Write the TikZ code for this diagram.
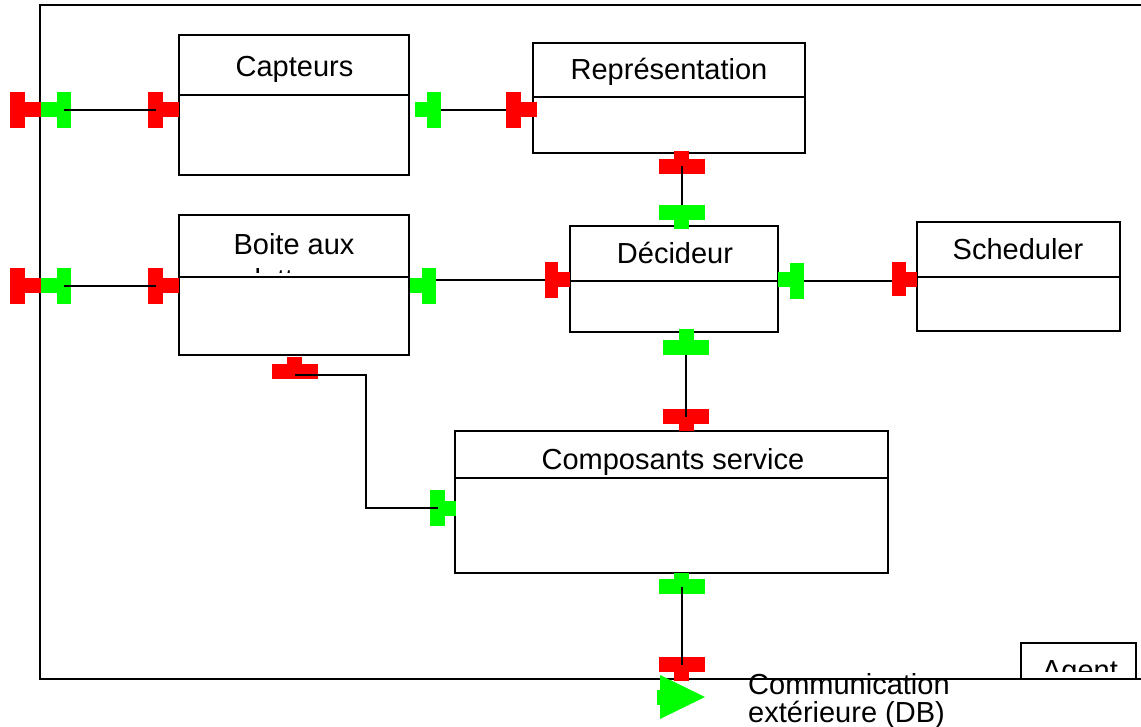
\documentclass[tikz,border=0pt]{standalone}
\usepackage{fontspec}
\setmainfont{Liberation Sans}
\definecolor{portred}{HTML}{FF0000}
\definecolor{portgreen}{HTML}{00FF00}
\tikzset{
  frame/.style={draw=black, line width=2pt},
  comp/.style={draw=black, line width=2pt, fill=white},
  wire/.style={draw=black, line width=2pt},
  lbl/.style={font=\fontsize{29}{29}\selectfont, inner sep=0pt, anchor=base},
  req/.style={fill=portred, draw=none, inner sep=0pt, outer sep=0pt},
  prov/.style={fill=portgreen, draw=none, inner sep=0pt, outer sep=0pt},
  vbar/.style={minimum width=14.5pt, minimum height=36pt},
  vstem/.style={minimum width=16pt, minimum height=15pt},
  hbar/.style={minimum width=46pt, minimum height=15pt},
  hstem/.style={minimum width=15pt, minimum height=#1},
  hstem/.default=9pt
}
\begin{document}
\begin{tikzpicture}[x=1pt, y=-1pt]
\clip (0,0) rectangle (1141,727);

% agent frame
\draw[frame] (1170,5) -- (40,5) -- (40,679) -- (1170,679);

% components: outline and header separator
\draw[comp] (179,35) rectangle (409,175);   \draw[comp] (179,95) -- (409,95);
\draw[comp] (533,43) rectangle (805,153);   \draw[comp] (533,97) -- (805,97);
\draw[comp] (179,215) rectangle (409,355);  \draw[comp] (179,277) -- (409,277);
\draw[comp] (570,226) rectangle (778,332);  \draw[comp] (570,281) -- (778,281);
\draw[comp] (917,222) rectangle (1120,331); \draw[comp] (917,277) -- (1120,277);
\draw[comp] (455,431) rectangle (888,573);  \draw[comp] (455,478) -- (888,478);
\draw[comp] (1021,643) rectangle (1136,679);

% component titles
\node[lbl] (capteurs) at (294.5,76.5) {Capteurs};
\node[lbl] (repr) at (669,80) {Représentation};
\begin{scope}
  \clip (181,217) rectangle (407,273);
  \node[lbl] (boite1) at (294,255) {Boite aux};
  \node[lbl] (boite2) at (294,290) {lettres};
\end{scope}
\node[lbl] (decideur) at (675,264) {Décideur};
\node[lbl] (scheduler) at (1018,260) {Scheduler};
\node[lbl] (composants) at (673,469) {Composants service};
\begin{scope}
  \clip (1022,644) rectangle (1135,671);
  \node[lbl] (agent) at (1080,680) {Agent};
\end{scope}
\node[lbl, anchor=base west] (comm1) at (748,694) {Communication};
\node[lbl, anchor=base west] (comm2) at (748,722) {extérieure (DB)};

% ports, first row
\node[req, vbar]   (p1b) at (17.5,110) {};
\node[req, vstem]  (p1s) at (32.5,110) {};
\node[prov, vstem] (p2s) at (48.5,110) {};
\node[prov, vbar]  (p2b) at (64,110) {};
\node[req, vbar]   (p3b) at (155.5,110) {};
\node[req, vstem]  (p3s) at (171,110) {};
\node[prov, vstem, minimum width=12pt] (p4s) at (421,110) {};
\node[prov, vbar]  (p4b) at (434,110) {};
\node[req, vbar]   (p5b) at (513.5,110) {};
\node[req, vstem]  (p5s) at (529,110) {};

% ports between Représentation and Décideur
\node[req, hstem=10pt] (p6s) at (681.5,156) {};
\node[req, hbar]       (p6b) at (682,166.5) {};
\node[prov, hbar]      (p7b) at (682,212.5) {};
\node[prov, hstem]     (p7s) at (681.5,224.5) {};

% ports, second row
\node[req, vbar]   (p8b) at (17.5,286) {};
\node[req, vstem]  (p8s) at (32.5,286) {};
\node[prov, vstem] (p9s) at (48.5,286) {};
\node[prov, vbar]  (p9b) at (64,286) {};
\node[req, vbar]   (p10b) at (155.5,286) {};
\node[req, vstem]  (p10s) at (171,286) {};
\node[prov, vstem, minimum width=12pt] (p11s) at (416,286) {};
\node[prov, vbar]  (p11b) at (429,286) {};
\node[req, vbar, minimum width=13pt]  (p12b) at (551.5,280) {};
\node[req, vstem, minimum width=12pt] (p12s) at (564,280) {};
\node[prov, vstem, minimum width=12pt] (p13s) at (784,280) {};
\node[prov, vbar]  (p13b) at (797,281) {};
\node[req, vbar, minimum width=14pt, minimum height=34pt] (p14b) at (899,279) {};
\node[req, vstem, minimum width=11pt] (p14s) at (911.5,279.5) {};

% ports between Décideur and Composants service
\node[prov, hstem=11pt] (p15s) at (686,334.5) {};
\node[prov, hbar]       (p15b) at (686,347.5) {};
\node[req, hbar]        (p16b) at (686,416.5) {};
\node[req, hstem=7pt]   (p16s) at (686,427.5) {};

% ports between Boite aux lettres and Composants service
\node[req, hstem=7pt]   (p17s) at (294.5,360.5) {};
\node[req, hbar]        (p17b) at (294.5,371.5) {};
\node[prov, vbar]       (p18b) at (437.5,508) {};
\node[prov, vstem, minimum width=11pt] (p18s) at (450.5,508.5) {};

% ports below Composants service
\node[prov, hstem=6pt]  (p19s) at (681.5,576) {};
\node[prov, hbar]       (p19b) at (682,586.5) {};
\node[req, hbar]        (p20b) at (682,664.5) {};
\node[req, hstem=9pt]   (p20s) at (681.5,676.5) {};

% outgoing arrow to the outside
\fill[portgreen] (660,675) -- (705,697) -- (660,719) -- cycle;
\fill[portgreen] (657,690) rectangle (662,705);

% connectors
\coordinate (k1) at (366,375);
\draw[wire] (p2b.center) -- (p3b.center);
\draw[wire] (p4b.east) -- (p5b.west);
\draw[wire] (p6b.center) -- (p7b.north);
\draw[wire] (p9b.center) -- (p10b.center);
\draw[wire] (p11b.east |- p12b.west) -- (p12b.west);
\draw[wire] (p13b.east) -- (p14b.west |- p13b.east);
\draw[wire] (p15b.south) -- (p16b.center);
\draw[wire] (p17b.center |- k1) -- (k1) |- (p18b.center);
\draw[wire] (p19b.center) -- (p20b.center);
\end{tikzpicture}
\end{document}
